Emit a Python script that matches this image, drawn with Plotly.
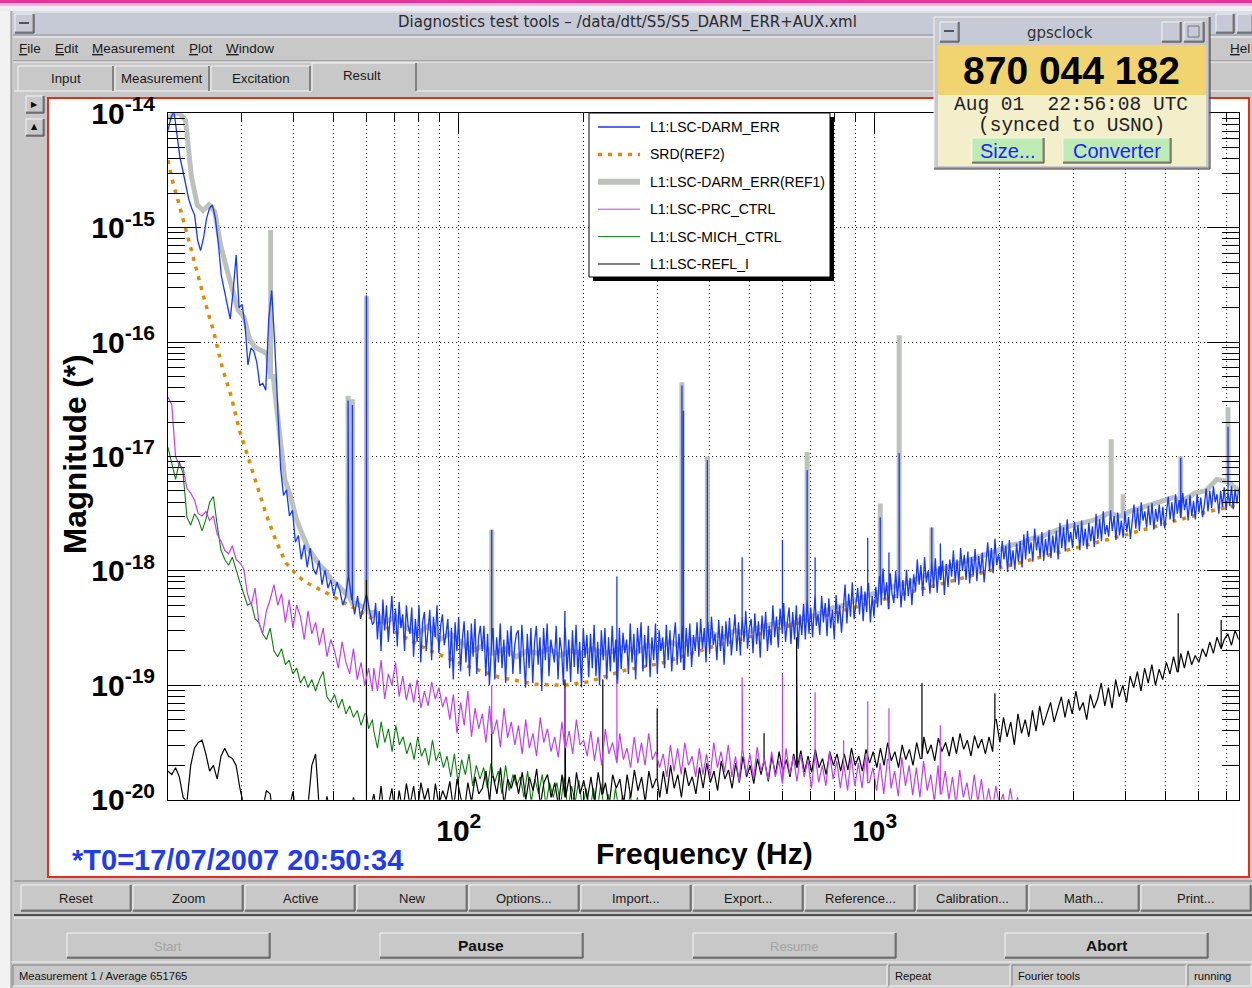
import numpy as np
import plotly.graph_objects as go

W, H = 1252, 988

# ---------------------------------------------------------------------------
# Spectra, stored as log10(magnitude) on log-spaced frequency bins.
# A band is (f_start_Hz, f_stop_Hz, values); narrow lines are (Hz, log10 peak).
# ---------------------------------------------------------------------------

# L1:LSC-DARM_ERR (live)
darm_err_low = [
    -14.15, -14.04, -13.98, -14.2, -14.38, -14.5, -14.62, -14.75, -14.83, -14.89,
    -15.11, -15.2, -15.09, -14.92, -14.83, -14.8, -14.92, -15.14, -15.42, -15.55,
    -15.7, -15.8, -15.55, -15.24, -15.7, -15.67, -15.85, -16.2, -16.05, -16.08,
    -16.18, -16.38, -16.36, -16.42, -15.8, -15.55, -16.0, -16.6, -17.1, -17.34,
    -17.29, -17.52, -17.47, -17.75, -17.69, -17.9, -17.77, -17.97, -17.8, -17.98,
    -18.03, -17.91, -18.12, -17.99, -18.15, -18.08, -18.22, -18.1, -18.17, -18.3,
    -18.22, -18.05, -18.25, -18.38, -18.22, -18.42, -18.3, -18.2, -18.34, -18.47,
]
darm_err_high = [
    -18.45, -18.28, -18.6, -18.35, -18.7, -18.25, -18.52, -18.3, -18.62, -18.4,
    -18.22, -18.55, -18.33, -18.66, -18.27, -18.5, -18.38, -18.7, -18.3, -18.48,
    -18.55, -18.32, -18.75, -18.42, -18.62, -18.3, -18.8, -18.45, -18.36, -18.7,
    -18.5, -18.34, -18.78, -18.4, -18.58, -18.3, -18.72, -18.48, -18.38, -18.65,
    -18.55, -18.42, -18.85, -18.5, -18.95, -18.45, -18.7, -18.4, -18.88, -18.6,
    -18.44, -18.8, -18.52, -18.92, -18.46, -18.75, -18.42, -18.9, -18.58, -18.48,
    -18.7, -18.48, -18.92, -18.55, -19.0, -18.62, -18.5, -18.95, -18.58, -18.8,
    -18.46, -18.85, -18.6, -18.98, -18.52, -18.75, -18.48, -18.9, -18.65, -18.55,
    -18.52, -18.9, -18.47, -18.75, -19.02, -18.55, -18.85, -18.5, -18.98, -18.62,
    -18.48, -18.82, -18.58, -19.05, -18.5, -18.78, -18.46, -18.92, -18.6, -18.7,
    -18.8, -18.48, -18.95, -18.58, -18.7, -19.0, -18.5, -18.88, -18.6, -18.97,
    -18.52, -18.84, -18.47, -18.9, -18.62, -19.02, -18.5, -18.76, -18.56, -18.93,
    -18.55, -18.85, -18.47, -18.92, -18.62, -19.0, -18.52, -18.78, -18.5, -18.95,
    -18.58, -18.88, -18.48, -18.8, -18.6, -18.98, -18.5, -18.86, -18.54, -18.72,
    -18.6, -18.9, -18.46, -18.8, -18.55, -18.95, -18.5, -18.72, -18.45, -18.88,
    -18.56, -18.84, -18.48, -18.93, -18.58, -18.78, -18.46, -18.9, -18.52, -18.7,
    -18.58, -18.85, -18.47, -18.78, -18.52, -18.88, -18.6, -18.45, -18.82, -18.55,
    -18.8, -18.48, -18.86, -18.5, -18.75, -18.46, -18.84, -18.56, -18.7, -18.45,
    -18.75, -18.42, -18.68, -18.5, -18.8, -18.45, -18.72, -18.4, -18.65, -18.55,
    -18.78, -18.43, -18.7, -18.48, -18.82, -18.44, -18.66, -18.41, -18.74, -18.52,
    -18.38, -18.7, -18.45, -18.74, -18.4, -18.62, -18.35, -18.68, -18.5, -18.42,
    -18.72, -18.37, -18.64, -18.44, -18.76, -18.39, -18.6, -18.36, -18.7, -18.48,
    -18.65, -18.3, -18.58, -18.4, -18.67, -18.33, -18.55, -18.28, -18.62, -18.45,
    -18.32, -18.64, -18.36, -18.6, -18.3, -18.68, -18.38, -18.56, -18.29, -18.6,
    -18.25, -18.55, -18.32, -18.58, -18.2, -18.48, -18.38, -18.56, -18.22, -18.45,
    -18.28, -18.57, -18.24, -18.5, -18.34, -18.6, -18.21, -18.46, -18.3, -18.54,
    -18.35, -18.12, -18.46, -18.2, -18.4, -18.1, -18.42, -18.25, -18.15, -18.38,
    -18.13, -18.44, -18.18, -18.36, -18.11, -18.45, -18.22, -18.4, -18.14, -18.32,
    -18.05, -18.3, -17.98, -18.25, -18.1, -18.33, -18.02, -18.2, -18.28, -18.0,
    -18.24, -18.04, -18.32, -18.08, -18.26, -17.99, -18.22, -18.06, -18.3, -18.03,
    -18.18, -17.9, -18.12, -17.95, -18.22, -17.88, -18.1, -18.0, -18.2, -17.92,
    -18.15, -17.89, -18.19, -17.96, -18.08, -17.91, -18.21, -17.94, -18.14, -17.9,
    -18.05, -17.82, -18.1, -17.9, -18.12, -17.8, -18.0, -17.86, -18.08, -17.83,
    -18.11, -17.88, -18.04, -17.81, -18.09, -17.87, -18.02, -17.84, -18.1, -17.93,
    -17.75, -18.0, -17.8, -18.02, -17.72, -17.95, -17.85, -17.98, -17.74, -17.9,
    -17.78, -18.01, -17.73, -17.96, -17.82, -17.99, -17.76, -17.92, -17.74, -17.97,
    -17.68, -17.9, -17.65, -17.85, -17.75, -17.92, -17.63, -17.82, -17.7, -17.88,
    -17.66, -17.91, -17.72, -17.86, -17.64, -17.89, -17.69, -17.84, -17.65, -17.9,
    -17.58, -17.8, -17.62, -17.83, -17.55, -17.75, -17.66, -17.8, -17.57, -17.72,
    -17.6, -17.82, -17.56, -17.78, -17.63, -17.81, -17.58, -17.74, -17.61, -17.79,
    -17.5, -17.72, -17.55, -17.74, -17.48, -17.68, -17.6, -17.7, -17.47, -17.65,
    -17.52, -17.73, -17.49, -17.69, -17.56, -17.71, -17.48, -17.66, -17.53, -17.72,
    -17.58, -17.42, -17.63, -17.45, -17.65, -17.4, -17.56, -17.48, -17.62, -17.43,
    -17.6, -17.41, -17.64, -17.46, -17.57, -17.42, -17.61, -17.44, -17.63, -17.47,
    -17.35, -17.55, -17.4, -17.57, -17.33, -17.5, -17.38, -17.54, -17.32, -17.47,
    -17.37, -17.56, -17.34, -17.52, -17.39, -17.55, -17.33, -17.49, -17.36, -17.53,
    -17.42, -17.28, -17.48, -17.3, -17.45, -17.26, -17.4, -17.33, -17.5, -17.3,
    -17.44, -17.27, -17.47, -17.31, -17.43, -17.26, -17.46, -17.29, -17.41, -17.28,
]
darm_err_lines_hz = [54.2, 55.5, 60.0, 120.0, 180.0, 240.0, 344.0, 347.0, 396.0, 480.0, 600.0,
                     688.0, 719.0, 962.0, 1031.0, 1082.0, 1145.0, 1371.0, 1438.0, 5440.0, 7070.0]
darm_err_lines_log = [-16.51, -16.55, -15.59, -17.64, -18.35, -18.05, -16.38, -16.6, -17.03, -17.88, -17.73,
                      -17.12, -17.88, -17.71, -17.53, -17.84, -16.97, -17.62, -17.76, -17.01, -16.74]

# L1:LSC-DARM_ERR(REF1)
darm_ref_low = [
    -14.05, -14.0, -14.0, -14.06, -14.55, -14.8, -14.85, -14.8, -14.86, -15.15,
    -15.35, -15.55, -15.72, -15.78, -15.98, -16.05, -16.08, -16.1, -16.3, -16.75,
    -17.2, -17.35, -17.55, -17.68, -17.8, -17.88, -17.95, -18.0, -18.08, -18.12,
    -18.18, -18.22, -18.28, -18.3, -18.33, -18.4,
]
darm_ref_high = [
    -18.35, -18.45, -18.4, -18.5, -18.55, -18.48, -18.6, -18.55, -18.62, -18.7,
    -18.65, -18.72, -18.68, -18.75, -18.7, -18.72, -18.68, -18.74, -18.7, -18.72,
    -18.68, -18.72, -18.7, -18.66, -18.72, -18.65, -18.68, -18.62, -18.66, -18.6,
    -18.6, -18.55, -18.58, -18.52, -18.55, -18.5, -18.48, -18.45, -18.48, -18.42,
    -18.4, -18.36, -18.32, -18.3, -18.25, -18.22, -18.18, -18.15, -18.12, -18.1,
    -18.05, -18.02, -17.98, -17.95, -17.92, -17.88, -17.85, -17.82, -17.78, -17.76,
    -17.72, -17.7, -17.66, -17.62, -17.6, -17.58, -17.55, -17.5, -17.52, -17.48,
    -17.45, -17.42, -17.4, -17.36, -17.38, -17.32, -17.3, -17.2, -17.22, -17.3,
]
darm_ref_lines_hz = [35.3, 54.2, 55.5, 60.0, 120.0, 344.0, 396.0, 688.0, 1031.0, 1145.0,
                     1371.0, 3702.0, 3956.0, 5440.0, 7070.0]
darm_ref_lines_log = [-15.02, -16.47, -16.5, -15.6, -17.64, -16.35, -17.0, -16.96, -17.41, -15.94,
                      -17.62, -16.85, -17.33, -17.0, -16.57]

# SRD(REF2) design curve
srd_hz = [20, 20.56, 21.14, 21.99, 22.84, 23.6, 24.6, 25.8, 27.0, 28.4, 29.7, 31.3, 32.9,
          34.4, 36.3, 38.4, 41.2, 42.9, 48.5, 59.0, 69.1, 84.4, 102.8, 125, 152.5, 178.8,
          205, 250, 305, 372, 418, 453, 912, 1926, 4150, 6360, 7500]
srd_log = [-14.41, -14.61, -14.76, -15.0, -15.22, -15.43, -15.66, -15.92, -16.22, -16.48,
           -16.77, -17.03, -17.27, -17.5, -17.73, -17.93, -18.05, -18.1, -18.2, -18.37,
           -18.52, -18.69, -18.82, -18.93, -18.99, -19.0, -18.97, -18.87, -18.81, -18.71,
           -18.65, -18.62, -18.31, -17.99, -17.67, -17.48, -17.42]

# L1:LSC-PRC_CTRL
prc_low = [
    -16.48, -16.55, -17.0, -17.08, -17.1, -17.28, -17.32, -17.38, -17.5, -17.52,
    -17.48, -17.56, -17.52, -17.68, -17.74, -17.82, -17.85, -17.78, -17.9, -17.93,
    -17.98, -18.2, -18.3, -18.15, -18.45, -18.55, -18.35, -18.25, -18.12, -18.3,
    -18.2, -18.45, -18.25, -18.5, -18.3, -18.4, -18.6, -18.35, -18.55, -18.45,
    -18.65, -18.5, -18.75, -18.6, -18.7, -18.85, -18.62, -18.8, -18.9, -18.68,
    -18.95, -18.8, -19.0, -18.85, -19.05,
]
prc_high = [
    -18.85, -19.05, -18.78, -19.12, -18.9, -19.0, -18.8, -19.1, -18.92, -19.13,
    -18.98, -19.15, -18.95, -19.2, -19.05, -19.18, -18.97, -19.12, -19.02, -19.19,
    -19.1, -19.3, -19.08, -19.42, -19.15, -19.35, -19.05, -19.45, -19.2, -19.38,
    -19.25, -19.5, -19.18, -19.42, -19.3, -19.54, -19.2, -19.46, -19.32, -19.52,
    -19.35, -19.6, -19.3, -19.55, -19.42, -19.62, -19.28, -19.5, -19.38, -19.58,
    -19.45, -19.63, -19.32, -19.55, -19.4, -19.6, -19.3, -19.52, -19.48, -19.62,
    -19.4, -19.66, -19.45, -19.7, -19.38, -19.6, -19.5, -19.68, -19.42, -19.65,
    -19.55, -19.72, -19.45, -19.68, -19.5, -19.7, -19.42, -19.65, -19.58, -19.72,
    -19.6, -19.8, -19.52, -19.75, -19.55, -19.78, -19.5, -19.7, -19.62, -19.8,
    -19.55, -19.78, -19.6, -19.8, -19.5, -19.72, -19.58, -19.76, -19.52, -19.8,
    -19.62, -19.84, -19.56, -19.78, -19.6, -19.82, -19.54, -19.75, -19.65, -19.83,
    -19.58, -19.8, -19.66, -19.86, -19.55, -19.78, -19.62, -19.84, -19.6, -19.8,
    -19.65, -19.9, -19.6, -19.85, -19.7, -19.88, -19.58, -19.82, -19.66, -19.9,
    -19.7, -19.92, -19.62, -19.88, -19.68, -19.9, -19.6, -19.85, -19.72, -19.92,
    -19.68, -19.95, -19.65, -19.9, -19.75, -19.97, -19.63, -19.88, -19.7, -19.96,
    -19.72, -19.98, -19.66, -19.92, -19.78, -20.02, -19.7, -19.95, -19.75, -20.0,
    -19.8, -20.05, -19.74, -19.98, -19.85, -20.05, -19.78, -20.02, -19.82, -20.08,
    -19.9, -20.1, -19.88, -20.05, -19.95, -20.12, -19.9, -20.1, -19.98, -20.15,
]
prc_lines_hz = [120.0, 180.0, 240.0, 480.0, 600.0, 719.0, 842.0, 962.0, 1082.0, 1438.0]
prc_lines_log = [-19.0, -19.03, -18.95, -18.93, -18.9, -19.06, -19.48, -19.14, -19.2, -19.35]

# L1:LSC-MICH_CTRL
mich_low = [
    -16.92, -17.05, -17.2, -17.05, -17.15, -17.53, -17.6, -17.5, -17.55, -17.65,
    -17.55, -17.4, -17.35, -17.6, -17.82, -17.9, -17.95, -17.88, -18.0, -18.1,
    -18.2, -18.3, -18.28, -18.42, -18.45, -18.55, -18.6, -18.5, -18.7, -18.75,
    -18.68, -18.82, -18.78, -18.9, -18.85, -18.98, -18.92, -19.02, -18.95, -19.05,
    -18.95, -18.88, -19.1, -19.15, -19.08, -19.2, -19.12, -19.25, -19.18, -19.28,
    -19.22, -19.35, -19.25, -19.38, -19.3,
]
mich_high = [
    -19.4, -19.55, -19.32, -19.5, -19.38, -19.58, -19.35, -19.52, -19.45, -19.6,
    -19.5, -19.65, -19.45, -19.62, -19.55, -19.7, -19.48, -19.66, -19.58, -19.72,
    -19.62, -19.8, -19.6, -19.85, -19.65, -19.78, -19.6, -19.88, -19.7, -19.82,
    -19.72, -19.9, -19.68, -19.85, -19.75, -19.95, -19.7, -19.92, -19.78, -19.88,
    -19.8, -19.98, -19.75, -20.02, -19.82, -19.95, -19.78, -20.05, -19.85, -19.98,
    -19.85, -20.05, -19.8, -20.1, -19.88, -20.02, -19.83, -20.08, -19.9, -20.1,
    -19.9, -20.1, -19.86, -20.12, -19.95, -20.15, -19.9, -20.1, -19.96, -20.15,
    -19.95, -20.15, -19.98, -20.2, -20.1,
]
mich_lines_hz = [60.0]
mich_lines_log = [-18.43]

# L1:LSC-REFL_I
refl_low = [
    -19.75, -19.78, -19.72, -19.8, -19.98, -20.02, -19.7, -19.55, -19.5, -19.48,
    -19.6, -19.75, -19.7, -19.82, -19.62, -19.55, -19.62, -19.64, -19.7, -19.9,
    -20.05, -20.2, -20.3, -20.15, -20.25, -20.1, -19.92, -19.95, -20.2, -20.3,
    -20.2, -20.25, -20.1, -19.93, -20.15, -20.3, -20.2, -20.05, -19.7, -19.6,
    -20.1, -20.2, -19.97, -20.15, -20.25, -20.1, -20.2, -20.05, -20.15, -19.98,
    -20.1, -20.2, -20.05, -20.15, -20.0,
]
refl_high = [
    -19.95, -20.15, -19.88, -20.2, -20.05, -19.9, -20.18, -19.92, -20.1, -19.86,
    -20.05, -19.88, -20.12, -19.85, -20.0, -19.9, -20.15, -19.86, -20.05, -19.92,
    -20.0, -19.84, -20.08, -19.82, -19.98, -20.1, -19.85, -20.02, -19.8, -19.95,
    -19.9, -19.75, -20.02, -19.8, -19.95, -19.72, -20.05, -19.82, -19.9, -19.78,
    -19.95, -19.76, -20.0, -19.8, -19.92, -19.73, -20.05, -19.85, -19.78, -19.98,
    -19.85, -20.05, -19.78, -19.98, -19.8, -20.08, -19.76, -19.95, -19.83, -20.0,
    -19.8, -20.02, -19.76, -19.95, -19.85, -20.06, -19.78, -19.9, -19.82, -20.05,
    -19.78, -19.98, -19.74, -19.92, -19.8, -20.02, -19.75, -19.9, -19.82, -19.98,
    -19.75, -19.95, -19.7, -19.9, -19.78, -19.98, -19.72, -19.88, -19.8, -19.95,
    -19.72, -19.9, -19.68, -19.85, -19.75, -19.92, -19.66, -19.82, -19.74, -19.9,
    -19.68, -19.85, -19.62, -19.8, -19.7, -19.86, -19.64, -19.78, -19.66, -19.84,
    -19.62, -19.78, -19.58, -19.75, -19.65, -19.8, -19.6, -19.72, -19.57, -19.76,
    -19.62, -19.76, -19.56, -19.72, -19.64, -19.78, -19.58, -19.7, -19.6, -19.75,
    -19.6, -19.74, -19.55, -19.7, -19.62, -19.75, -19.56, -19.68, -19.58, -19.72,
    -19.55, -19.7, -19.5, -19.66, -19.58, -19.72, -19.52, -19.65, -19.56, -19.7,
    -19.5, -19.64, -19.45, -19.6, -19.52, -19.66, -19.46, -19.58, -19.5, -19.62,
    -19.45, -19.6, -19.42, -19.56, -19.48, -19.62, -19.44, -19.55, -19.47, -19.6,
    -19.45, -19.58, -19.3, -19.5, -19.28, -19.45, -19.32, -19.52, -19.25, -19.42,
    -19.3, -19.45, -19.22, -19.4, -19.18, -19.35, -19.25, -19.15, -19.32, -19.2,
    -19.1, -19.28, -19.12, -19.25, -19.05, -19.22, -19.15, -19.3, -19.08, -19.2,
    -19.12, -18.98, -19.18, -19.02, -19.2, -18.95, -19.1, -19.0, -19.15, -18.92,
    -19.02, -18.88, -19.05, -18.85, -18.98, -18.82, -19.0, -18.86, -18.95, -18.8,
    -18.9, -18.75, -18.88, -18.72, -18.85, -18.7, -18.82, -18.74, -18.8, -18.68,
    -18.75, -18.62, -18.72, -18.58, -18.68, -18.6, -18.55, -18.65, -18.52, -18.6,
]
refl_lines_hz = [60.0, 120.0, 180.0, 222.0, 300.0, 542.0, 649.0, 1299.0, 1945.0, 5366.0, 6806.0]
refl_lines_log = [-18.08, -19.32, -18.95, -18.95, -19.2, -19.42, -18.58, -18.98, -19.07, -18.37, -18.43]

# frequency ticks
x_major = [100, 1000]
x_major_text = ["10<sup>2</sup>", "10<sup>3</sup>"]
x_minor = [30, 40, 50, 60, 70, 80, 90, 200, 300, 400, 500, 600, 700, 800, 900,
           2000, 3000, 4000, 5000, 6000, 7000]
y_decades = [-20, -19, -18, -17, -16, -15, -14]


def spectrum(bands, lines_hz, lines_log):
    """Assemble a trace: log-spaced bins per band plus vertical narrow lines."""
    f = np.concatenate([np.geomspace(a, b, len(v)) for a, b, v in bands])
    v = np.concatenate([np.asarray(v, float) for _, _, v in bands])
    pts = [(fi, vi, 0) for fi, vi in zip(f, v)]
    lf = np.log10(f)
    for hz, pk in zip(lines_hz, lines_log):
        foot = v[int(np.argmin(np.abs(lf - np.log10(hz))))]
        pts += [(hz, foot, 1), (hz, pk, 2), (hz, foot, 3)]
    pts.sort(key=lambda p: (p[0], p[2]))
    return [p[0] for p in pts], [10.0 ** p[1] for p in pts]


darm_f, darm_y = spectrum([(20, 62, darm_err_low), (62.5, 7500, darm_err_high)],
                          darm_err_lines_hz, darm_err_lines_log)
ref_f, ref_y = spectrum([(20, 62, darm_ref_low), (62.5, 7500, darm_ref_high)],
                        darm_ref_lines_hz, darm_ref_lines_log)
prc_f, prc_y = spectrum([(20, 62, prc_low), (62.5, 2250, prc_high)], prc_lines_hz, prc_lines_log)
mich_f, mich_y = spectrum([(20, 62, mich_low), (62.5, 280, mich_high)], mich_lines_hz, mich_lines_log)
refl_f, refl_y = spectrum([(20, 62, refl_low), (62.5, 7500, refl_high)], refl_lines_hz, refl_lines_log)
srd_y = [10.0 ** s for s in srd_log]

C_BLUE, C_REF, C_SRD = "#1438ff", "#bdc1bb", "#e08a00"
C_PRC, C_MICH, C_REFL = "#c040f0", "#0a800a", "#000000"

fig = go.Figure()
fig.add_trace(go.Scatter(x=ref_f, y=ref_y, mode="lines", name="L1:LSC-DARM_ERR(REF1)",
                         line=dict(color=C_REF, width=5)))
fig.add_trace(go.Scatter(x=srd_hz, y=srd_y, mode="lines", name="SRD(REF2)",
                         line=dict(color=C_SRD, width=3.5, dash="4px,6px")))
fig.add_trace(go.Scatter(x=darm_f, y=darm_y, mode="lines", name="L1:LSC-DARM_ERR",
                         line=dict(color=C_BLUE, width=1.3)))
fig.add_trace(go.Scatter(x=mich_f, y=mich_y, mode="lines", name="L1:LSC-MICH_CTRL",
                         line=dict(color=C_MICH, width=1.1)))
fig.add_trace(go.Scatter(x=refl_f, y=refl_y, mode="lines", name="L1:LSC-REFL_I",
                         line=dict(color=C_REFL, width=1.2)))
fig.add_trace(go.Scatter(x=prc_f, y=prc_y, mode="lines", name="L1:LSC-PRC_CTRL",
                         line=dict(color=C_PRC, width=1.2)))

# ---------------------------------------------------------------------------
# Window decoration (drawn in pixel coordinates of the page)
# ---------------------------------------------------------------------------
shapes, notes = [], []
BG, LIGHT, DARK, DARKER = "#c8c8c8", "#f4f4f4", "#808080", "#3a3a3a"


def px(x):
    return x / W


def py(y):
    return 1 - y / H


def rect(x0, y0, x1, y1, fill, line=None, lw=1, layer="below"):
    shapes.append(dict(type="rect", xref="paper", yref="paper", x0=px(x0), x1=px(x1),
                       y0=py(y1), y1=py(y0), fillcolor=fill, layer=layer,
                       line=dict(color=line or "rgba(0,0,0,0)", width=lw if line else 0)))


def seg(x0, y0, x1, y1, color, lw=1, layer="below", dash=None):
    ln = dict(color=color, width=lw)
    if dash:
        ln["dash"] = dash
    shapes.append(dict(type="line", xref="paper", yref="paper", x0=px(x0), x1=px(x1),
                       y0=py(y0), y1=py(y1), line=ln, layer=layer))


def bevel(x0, y0, x1, y1, fill=BG, raised=True, layer="below"):
    rect(x0, y0, x1, y1, fill, layer=layer)
    tl, br = (LIGHT, DARK) if raised else (DARK, LIGHT)
    seg(x0, y0, x1, y0, tl, layer=layer)
    seg(x0, y0, x0, y1, tl, layer=layer)
    seg(x0, y1, x1, y1, br, layer=layer)
    seg(x1, y0, x1, y1, br, layer=layer)
    if raised:
        seg(x0, y1 + 1, x1 + 1, y1 + 1, DARKER, layer=layer)
        seg(x1 + 1, y0, x1 + 1, y1 + 1, DARKER, layer=layer)


def text(x, y, s, size, color="#1a1a1a", family="Liberation Sans", weight="normal",
         xanchor="center", yanchor="middle", angle=0):
    notes.append(dict(xref="paper", yref="paper", x=px(x), y=py(y), text=s, showarrow=False,
                      font=dict(size=size, color=color, family=family, weight=weight),
                      xanchor=xanchor, yanchor=yanchor, textangle=angle, borderpad=0))


# desktop strip and window body
rect(0, 0, W, 3, "#e2349e")
rect(0, 3, W, 6, "#f2b6da")
rect(0, 6, W, 11, "#eeedf3")
rect(0, 11, 11, H, "#f2f2f2")
rect(11, 11, W, H, BG)
seg(11, 11, 11, H, "#8a8a8a")

# title bar
rect(13, 12, W, 35, "#c6c9d6")
seg(13, 12, W, 12, LIGHT)
seg(13, 35, W, 35, "#8f93a3")
bevel(15, 14, 33, 32, "#c6c9d6")
seg(19, 23, 29, 23, "#555555", 2)
bevel(1216, 14, 1233, 32, "#c6c9d6")
bevel(1237, 14, 1252, 32, "#c6c9d6")
text(627, 23, "Diagnostics test tools \u2013 /data/dtt/S5/S5_DARM_ERR+AUX.xml", 15,
     "#2a2a2a", "DejaVu Sans")

# menu bar
seg(13, 37, W, 37, LIGHT)
seg(13, 61, W, 61, DARK)
seg(13, 62, W, 62, LIGHT)
for lbl, x in [("<u>F</u>ile", 18), ("<u>E</u>dit", 54), ("<u>M</u>easurement", 91),
               ("<u>P</u>lot", 188), ("<u>W</u>indow", 225), ("<u>H</u>el", 1229)]:
    text(x, 48, lbl, 13.5, xanchor="left")

# tabs
seg(14, 91, 312, 91, LIGHT)
seg(416, 91, W, 91, LIGHT)
for x0, x1, lbl in [(18, 113, "Input"), (115, 209, "Measurement"), (211, 310, "Excitation")]:
    seg(x0, 66, x1, 66, LIGHT)
    seg(x0, 66, x0, 91, LIGHT)
    seg(x1, 66, x1, 91, DARKER)
    text((x0 + x1) / 2, 78, lbl, 13.3)
seg(312, 63, 416, 63, LIGHT)
seg(312, 63, 312, 91, LIGHT)
seg(416, 63, 416, 91, DARKER)
text(362, 76, "Result", 13.3)

# plot canvas
rect(48, 98, 1249, 877, "#ffffff", "#e0301a", 2)
bevel(26, 96, 43, 112)
bevel(26, 119, 43, 135)
text(34.5, 104, "\u25b6", 8, "#000000", "DejaVu Sans")
text(34.5, 127, "\u25b2", 8, "#000000", "DejaVu Sans")
seg(14, 881, W, 881, DARK)

# button row
buttons = ["Reset", "Zoom", "Active", "New", "Options...", "Import...", "Export...",
           "Reference...", "Calibration...", "Math...", "Print..."]
for i, lbl in enumerate(buttons):
    bevel(21 + 112 * i, 885, 130 + 112 * i, 910)
    text(76 + 112 * i, 898, lbl, 13)
seg(14, 915, W, 915, "#505050", 2)
seg(14, 918, W, 918, LIGHT)

# run controls
for x0, x1, lbl, on in [(67, 269, "Start", False), (380, 582, "Pause", True),
                        (693, 895, "Resume", False), (1005, 1207, "Abort", True)]:
    bevel(x0, 933, x1, 957)
    if on:
        text((x0 + x1) / 2, 945, lbl, 15.5, "#111111", weight="bold")
    else:
        text((x0 + x1) / 2, 946, lbl, 13, "#a4a4a4")

# status bar
seg(11, 962, W, 962, LIGHT)
for x0, x1, lbl in [(13, 887, "Measurement 1 / Average 651765"), (889, 1010, "Repeat"),
                    (1012, 1186, "Fourier tools"), (1188, 1251, "running")]:
    bevel(x0, 965, x1, 986, raised=False)
    text(x0 + 5, 975.5, lbl, 11.2, "#111111", xanchor="left")

# gpsclock window
bevel(934, 17, 1209, 168, "#c8c8d0", layer="above")
rect(938, 20, 1206, 44, "#c6c9d6", layer="above")
bevel(940, 22, 958, 41, "#c6c9d6", layer="above")
seg(944, 31, 954, 31, "#555555", 2, layer="above")
bevel(1162, 22, 1180, 41, "#c6c9d6", layer="above")
bevel(1184, 22, 1203, 41, "#c6c9d6", layer="above")
rect(1188, 26, 1199, 37, "rgba(0,0,0,0)", "#777777", 1, layer="above")
rect(938, 45, 1206, 95, "#f1d470", layer="above")
rect(938, 95, 1206, 166, "#f3efcb", layer="above")
bevel(972, 138, 1043, 162, "#bdebb3", layer="above")
bevel(1063, 138, 1170, 162, "#bdebb3", layer="above")
text(1060, 33, "gpsclock", 15, "#333333", "DejaVu Sans")
text(1071, 71, "870 044 182", 39, "#000000", weight="bold")
text(1071, 105, "Aug\u00a001\u00a0\u00a022:56:08\u00a0UTC", 19.5, "#222222", "Liberation Mono")
text(1071, 126, "(synced\u00a0to\u00a0USNO)", 19.5, "#222222", "Liberation Mono")
text(1007.5, 150.5, "Size...", 20, "#1a22ff")
text(1116.5, 150.5, "Converter", 20, "#1a22ff")

# legend box
rect(593, 117, 834, 281, "#000000", layer="above")
rect(589, 113, 830, 277, "#ffffff", "#000000", 1, layer="above")
legend_rows = [("L1:LSC-DARM_ERR", C_BLUE, 1.3, None), ("SRD(REF2)", C_SRD, 3.5, "4px,6px"),
               ("L1:LSC-DARM_ERR(REF1)", C_REF, 6, None), ("L1:LSC-PRC_CTRL", C_PRC, 1, None),
               ("L1:LSC-MICH_CTRL", C_MICH, 1, None), ("L1:LSC-REFL_I", C_REFL, 1, None)]
for k, (lbl, col, lw, dash) in enumerate(legend_rows):
    yy = 127 + 27.4 * k
    seg(598, yy, 640, yy, col, lw, layer="above", dash=dash)
    text(649, yy, lbl, 14, "#000000", xanchor="left")

# chart captions
text(704, 853, "Frequency (Hz)", 30, "#000000", weight="bold")
text(75, 455, "Magnitude (*)", 31.5, "#000000", weight="bold", angle=-90)
text(71, 860, "*T0=17/07/2007 20:50:34", 29, "#1f3cf0", weight="bold", xanchor="left")

y_minor = [k * 10.0 ** d for d in y_decades[:-1] for k in range(2, 10)]
grid_dash = "1px,3px"

fig.update_layout(
    width=W, height=H, autosize=False,
    margin=dict(l=0, r=0, t=0, b=0, pad=0, autoexpand=False),
    paper_bgcolor=BG, plot_bgcolor="#ffffff",
    showlegend=False, hovermode=False,
    font=dict(family="Liberation Sans", color="#000000"),
    shapes=shapes, annotations=notes,
    xaxis=dict(
        type="log", range=[np.log10(20), np.log10(7500)],
        domain=[168 / W, 1238.7 / W], automargin=False,
        showline=True, linecolor="#000000", linewidth=1, mirror="allticks",
        ticks="inside", ticklen=21, tickwidth=1, tickcolor="#000000",
        tickmode="array", tickvals=x_major, ticktext=x_major_text,
        tickfont=dict(size=30, family="Liberation Sans", weight="bold", color="#000000"),
        ticklabelstandoff=4,
        showgrid=True, gridcolor="#222222", gridwidth=1, griddash=grid_dash,
        minor=dict(tickmode="array", tickvals=x_minor, ticks="inside", ticklen=9,
                   tickwidth=1, tickcolor="#000000", showgrid=True,
                   gridcolor="#222222", gridwidth=1, griddash=grid_dash),
        fixedrange=True,
    ),
    yaxis=dict(
        type="log", range=[-20, -14],
        domain=[1 - 799.7 / H, 1 - 113.3 / H], automargin=False,
        showline=True, linecolor="#000000", linewidth=1, mirror="allticks",
        ticks="inside", ticklen=32, tickwidth=1, tickcolor="#000000",
        tickmode="array", tickvals=[10.0 ** d for d in y_decades],
        ticktext=["10<sup>%d</sup>" % d for d in y_decades],
        tickfont=dict(size=30, family="Liberation Sans", weight="bold", color="#000000"),
        ticklabelstandoff=6,
        showgrid=True, gridcolor="#222222", gridwidth=1, griddash=grid_dash,
        minor=dict(tickmode="array", tickvals=y_minor, ticks="inside", ticklen=17,
                   tickwidth=1, tickcolor="#000000", showgrid=False),
        fixedrange=True,
    ),
)

fig.write_html("out.html", config={"displayModeBar": False, "staticPlot": True})
